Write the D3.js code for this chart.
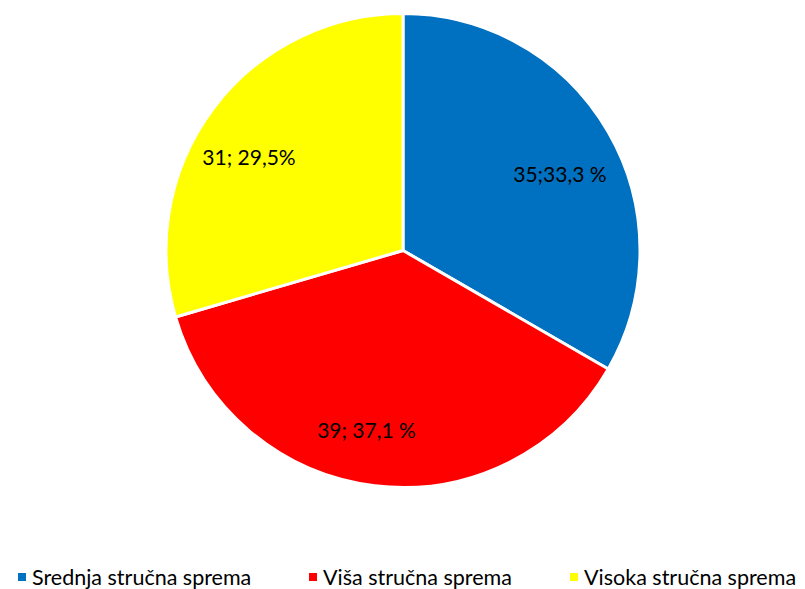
<!DOCTYPE html>
<html>
<head>
<meta charset="utf-8">
<script src="https://cdn.jsdelivr.net/npm/d3@7"></script>
<style>
  body { margin: 0; background: #fff; }
  text { font-family: Lato, "Noto Sans", sans-serif; }
</style>
</head>
<body>
<script>
var width = 805;
var height = 589;

var categories = ['Srednja stručna sprema', 'Viša stručna sprema', 'Visoka stručna sprema'];
var counts = [35, 39, 31];
var labels = ['35;33,3 %', '39; 37,1 %', '31; 29,5%'];
var colors = ['#0070C0', '#FF0000', '#FFFF00'];

var cx = 403, cy = 250.5, radius = 237;
var label_radius = 180;
// small nudges so labels sit where Excel put them
var label_nudge = [[1, 14], [-15, 1], [-10, 15]];

var slices = categories.map(function(c, i) {
    return { name: c, value: counts[i], label: labels[i], color: colors[i], nudge: label_nudge[i] };
});

var svg = d3.select('body')
    .append('svg')
    .attr('width', width)
    .attr('height', height);

var pie_group = svg.append('g')
    .attr('transform', `translate(${cx}, ${cy})`);

var pie = d3.pie()
    .sort(null)
    .value(function(d) { return d.value; });

var arc = d3.arc()
    .innerRadius(0)
    .outerRadius(radius);

var label_arc = d3.arc()
    .innerRadius(label_radius)
    .outerRadius(label_radius);

var arcs = pie(slices);

pie_group.selectAll('path').data(arcs).enter()
    .append('path')
    .attr('d', arc)
    .attr('fill', function(d) { return d.data.color; })
    .attr('stroke', '#fff')
    .attr('stroke-width', 3)
    .attr('stroke-linejoin', 'round');

pie_group.selectAll('text').data(arcs).enter()
    .append('text')
    .attr('transform', function(d) {
        var c = label_arc.centroid(d);
        return `translate(${c[0] + d.data.nudge[0]}, ${c[1] + d.data.nudge[1]})`;
    })
    .attr('text-anchor', 'middle')
    .attr('dy', '0.35em')
    .style('font-size', '21px')
    .style('fill', '#000')
    .text(function(d) { return d.data.label; });

// legend
var legend_x = [18, 309, 570];
var legend = svg.append('g')
    .attr('transform', 'translate(0, 577)');

var items = legend.selectAll('g').data(slices).enter()
    .append('g')
    .attr('transform', function(d, i) { return `translate(${legend_x[i]}, 0)`; });

items.append('rect')
    .attr('x', 0)
    .attr('y', -4)
    .attr('width', 8)
    .attr('height', 8)
    .attr('fill', function(d) { return d.color; });

items.append('text')
    .attr('x', 14)
    .attr('dy', '0.35em')
    .style('font-size', '21.5px')
    .style('fill', '#000')
    .text(function(d) { return d.name; });
</script>
</body>
</html>
